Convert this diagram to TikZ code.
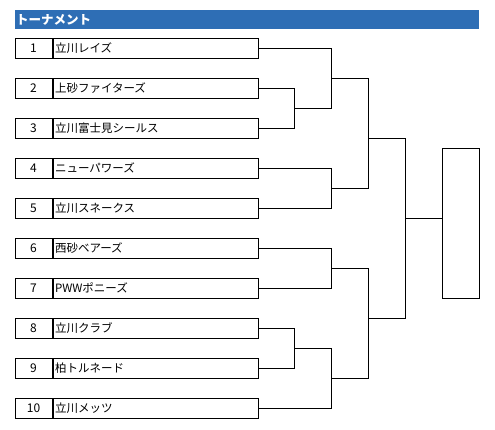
\documentclass[tikz,border=0pt]{standalone}
\usepackage{fontspec}
\setmainfont{Noto Sans CJK JP}
\usetikzlibrary{positioning}
\definecolor{titleblue}{RGB}{46,110,181}
\tikzset{
  numcell/.style={draw, line width=1pt, minimum width=37pt, minimum height=20pt,
    inner sep=0pt, font=\fontsize{12}{13}\selectfont},
  namecell/.style={draw, line width=1pt, minimum width=205pt, minimum height=20pt,
    inner sep=0pt, text width=201pt, align=left, font=\fontsize{11.5}{13}\selectfont},
  bracket/.style={line width=1pt},
}
\begin{document}
\begin{tikzpicture}[x=1pt, y=-1pt]
  \useasboundingbox (0,0) rectangle (495,429);
  % title bar
  \fill[titleblue] (15,10) rectangle (479,28.7);
  \node[anchor=west, text=white, inner sep=0pt, font=\fontsize{12.5}{13}\selectfont\bfseries] (title) at (16,19.5) {トーナメント};
  % teams
  \foreach \i/\team in {1/立川レイズ, 2/上砂ファイターズ, 3/立川富士見シールス, 4/ニューパワーズ,
      5/立川スネークス, 6/西砂ベアーズ, 7/PWWポニーズ, 8/立川クラブ, 9/柏トルネード, 10/立川メッツ} {
    \node[numcell] (n\i) at (33.5,{48+40*(\i-1)}) {\i};
    \node[namecell, right=0pt of n\i] (t\i) {\team};
  }
  % winner box
  \node[draw, line width=1pt, minimum width=36.6pt, minimum height=150pt, inner sep=0pt] (win) at (461,223.3) {};
  % joints
  \coordinate (j23) at (294.3,108.3);
  \coordinate (j123) at (331.7,78.3);
  \coordinate (j45) at (331.7,188.3);
  \coordinate (jA) at (368.3,138.3);
  \coordinate (j67) at (331.7,268.3);
  \coordinate (j89) at (294.3,348.3);
  \coordinate (j8910) at (331.7,378.3);
  \coordinate (jB) at (368.3,318.3);
  \coordinate (jF) at (405.3,218.3);
  % brackets
  \draw[bracket] (t2.east) -| (j23) |- (t3.east);
  \draw[bracket] (t1.east) -| (j123) |- (j23);
  \draw[bracket] (t4.east) -| (j45) |- (t5.east);
  \draw[bracket] (j123) -| (jA) |- (j45);
  \draw[bracket] (t6.east) -| (j67) |- (t7.east);
  \draw[bracket] (t8.east) -| (j89) |- (t9.east);
  \draw[bracket] (j89) -| (j8910) |- (t10.east);
  \draw[bracket] (j67) -| (jB) |- (j8910);
  \draw[bracket] (jA) -| (jF) |- (jB);
  \draw[bracket] (jF) -- (win.west |- jF);
\end{tikzpicture}
\end{document}
